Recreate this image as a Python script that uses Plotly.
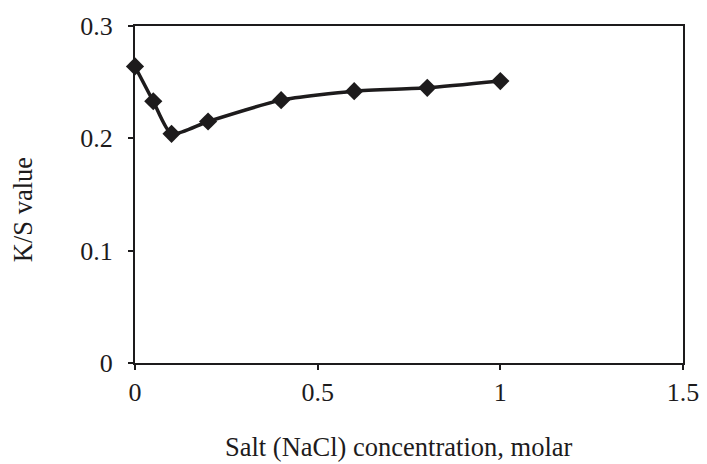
import plotly.graph_objects as go

salt_conc = [0, 0.05, 0.1, 0.2, 0.4, 0.6, 0.8, 1.0]
ks_value = [0.264, 0.233, 0.204, 0.215, 0.234, 0.242, 0.245, 0.251]

x_ticks = [0, 0.5, 1, 1.5]
x_tick_labels = ["0", "0.5", "1", "1.5"]
y_ticks = [0, 0.1, 0.2, 0.3]
y_tick_labels = ["0", "0.1", "0.2", "0.3"]

x_title = "Salt (NaCl) concentration, molar"
y_title = "K/S value"

font_family = "Liberation Serif"

fig = go.Figure()
fig.add_trace(go.Scatter(
    x=salt_conc, y=ks_value, mode="lines+markers",
    line=dict(color="#1d1b1c", width=3.5, shape="spline", smoothing=0.6),
    marker=dict(symbol="diamond", size=14, color="#1d1b1c"),
    showlegend=False,
    cliponaxis=False,
))

axis_common = dict(
    showline=True, linecolor="#1d1b1c", linewidth=2, mirror=True,
    showgrid=False, zeroline=False, ticks="outside", ticklen=5,
    tickcolor="#1d1b1c", tickwidth=2, automargin=False,
    ticklabeloverflow="allow",
    tickfont=dict(family=font_family, size=26, color="#1d1b1c"),
)

# page body has an 8px default margin, so the figure is sized to fill the rest
fig.update_layout(
    width=699, height=456,
    margin=dict(l=127, r=24, t=18, b=101),
    paper_bgcolor="white", plot_bgcolor="white",
    font=dict(family=font_family, color="#1d1b1c"),
    xaxis=dict(range=[0, 1.5], tickvals=x_ticks, ticktext=x_tick_labels,
               ticklabelstandoff=0, **axis_common),
    yaxis=dict(range=[0, 0.3], tickvals=y_ticks, ticktext=y_tick_labels,
               ticklabelstandoff=10, **axis_common),
    annotations=[
        dict(text=x_title, xref="paper", yref="paper", x=0.482, y=-0.25,
             xanchor="center", yanchor="middle", showarrow=False,
             font=dict(family=font_family, size=26.5, color="#1d1b1c")),
        dict(text=y_title, xref="paper", yref="paper", x=-0.204, y=0.454,
             xanchor="center", yanchor="middle", showarrow=False, textangle=-90,
             font=dict(family=font_family, size=26.5, color="#1d1b1c")),
    ],
)

fig.write_html("out.html")
